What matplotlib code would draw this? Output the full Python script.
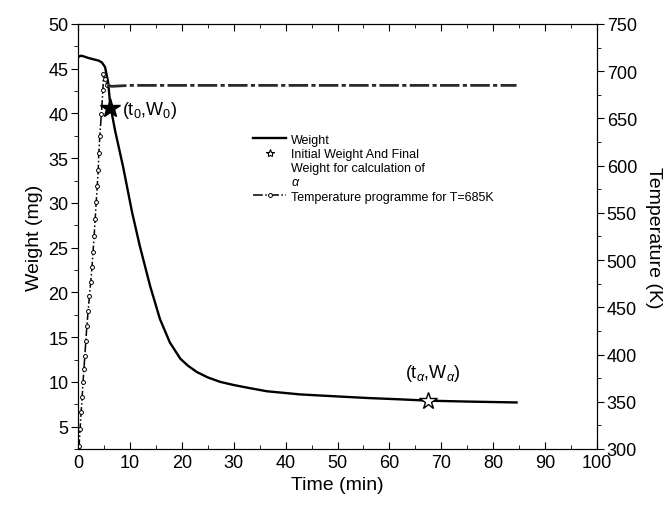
import matplotlib
matplotlib.use("Agg")
import matplotlib.pyplot as plt
from matplotlib.ticker import MultipleLocator
from matplotlib.lines import Line2D

plt.rcParams['font.family'] = ['Liberation Sans', 'DejaVu Sans']
plt.rcParams['mathtext.fontset'] = 'custom'
plt.rcParams['mathtext.rm'] = 'Liberation Sans'
plt.rcParams['mathtext.it'] = 'Liberation Sans:italic'

# Weight curve (min, mg)
weight_t = [0, 0.5, 1, 2, 3, 4, 4.6, 5.2, 5.8, 6.2, 7.1, 8.7, 10.4, 11.9, 13.9,
            15.8, 17.7, 19.7, 21.2, 22.9, 25.0, 27.4, 30.0, 33.1, 36.4, 42.8,
            49.1, 55.7, 62, 67.5, 75, 84.5]
weight_w = [46.3, 46.45, 46.4, 46.2, 46.05, 45.9, 45.7, 45.2, 43.5, 41.0, 38.2,
            34.0, 29.0, 25.2, 20.7, 17.0, 14.4, 12.6, 11.8, 11.1, 10.5, 10.0,
            9.65, 9.3, 8.95, 8.6, 8.4, 8.2, 8.05, 7.9, 7.8, 7.7]

# Temperature programme: heating ramp (min, K)
ramp_t = [0.0, 0.2, 0.4, 0.6, 0.8, 0.96, 1.15, 1.3, 1.5, 1.7, 1.95, 2.2, 2.45,
          2.7, 2.9, 3.1, 3.3, 3.5, 3.7, 3.9, 4.0, 4.2, 4.5, 4.8, 4.9, 5.2, 5.6]
ramp_k = [300, 303, 321, 339, 355, 371, 385, 398, 414, 430, 446, 462, 477,
          493, 509, 525, 543, 561, 578, 595, 613, 631, 655, 680, 697, 692, 685]
# Temperature programme: isothermal hold (min, K)
hold_t = [5.6, 6.5, 10, 20, 30, 40, 50, 60, 70, 80, 84.5]
hold_k = [685, 684, 685, 685, 685, 685, 685, 685, 685, 685, 685]

# Marked points
stars_t = [6.2, 67.5]
stars_w = [40.6, 7.9]

fig = plt.figure(figsize=(6.68, 5.06), dpi=100)
ax = fig.add_axes([0.1168, 0.1107, 0.7769, 0.8399])
ax2 = ax.twinx()

ax2.plot(ramp_t, ramp_k, color='black', linestyle='-.', lw=1.1,
         marker='o', markersize=2.8, markerfacecolor='white',
         markeredgewidth=0.7, zorder=2)
ax2.plot(hold_t, hold_k, color='#2a2a2a', linestyle=(0, (7, 1.2, 1.5, 1.2)),
         lw=2.0, zorder=2)

ax.plot(weight_t, weight_w, color='black', lw=1.7, zorder=3)
ax.plot([stars_t[0]], [stars_w[0]], marker='*', markersize=15, color='black',
        markerfacecolor='black', linestyle='none', zorder=4)
ax.plot([stars_t[1]], [stars_w[1]], marker='*', markersize=13, color='black',
        markerfacecolor='white', markeredgewidth=1.0, linestyle='none', zorder=4)

ax.text(8.5, 40.4, r'(t$_0$,W$_0$)', fontsize=13, va='center', ha='left')
ax.text(63, 11.0, r'(t$_\alpha$,W$_\alpha$)', fontsize=13, va='center', ha='left')

ax.set_xlim(0, 100)
ax.set_ylim(2.5, 50)
ax2.set_ylim(300, 750)
ax.xaxis.set_major_locator(MultipleLocator(10))
ax.xaxis.set_minor_locator(MultipleLocator(5))
ax.yaxis.set_major_locator(MultipleLocator(5))
ax.yaxis.set_minor_locator(MultipleLocator(2.5))
ax2.yaxis.set_major_locator(MultipleLocator(50))
ax2.yaxis.set_minor_locator(MultipleLocator(25))

ax.tick_params(axis='x', which='both', direction='in', top=True, labelsize=13)
ax.tick_params(axis='x', which='major', length=5)
ax.tick_params(axis='x', which='minor', length=3)
ax.tick_params(axis='y', which='both', direction='out', labelsize=13, pad=2)
ax.tick_params(axis='y', which='major', length=5)
ax.tick_params(axis='y', which='minor', length=3)
ax2.tick_params(axis='y', which='both', direction='out', labelsize=13, pad=2)
ax2.tick_params(axis='y', which='major', length=5)
ax2.tick_params(axis='y', which='minor', length=3)

ax.set_xlabel('Time (min)', fontsize=14, labelpad=4)
ax.set_ylabel('Weight (mg)', fontsize=14, labelpad=4)
ax2.set_ylabel('Temperature (K)', fontsize=14, rotation=270, labelpad=18)

h_weight = Line2D([], [], color='black', lw=1.7)
h_star = Line2D([], [], color='black', marker='*', markersize=6,
                markerfacecolor='white', markeredgewidth=0.8, linestyle='none')
h_blank = Line2D([], [], linestyle='none')
h_temp = Line2D([], [], color='black', linestyle='-.', lw=1.1, marker='o',
                markersize=2.8, markerfacecolor='white', markeredgewidth=0.7)
handles = [h_weight, h_star, h_blank, h_blank, h_temp]
labels = ['Weight', 'Initial Weight And Final', 'Weight for calculation of',
          r'$\alpha$', 'Temperature programme for T=685K']
ax.legend(handles=handles, labels=labels,
          loc='upper left', bbox_to_anchor=(0.338, 0.742), frameon=False,
          fontsize=9, handlelength=2.6, handletextpad=0.4, labelspacing=0.18,
          borderpad=0.0, borderaxespad=0.0)

fig.savefig('out.png', dpi=100)
